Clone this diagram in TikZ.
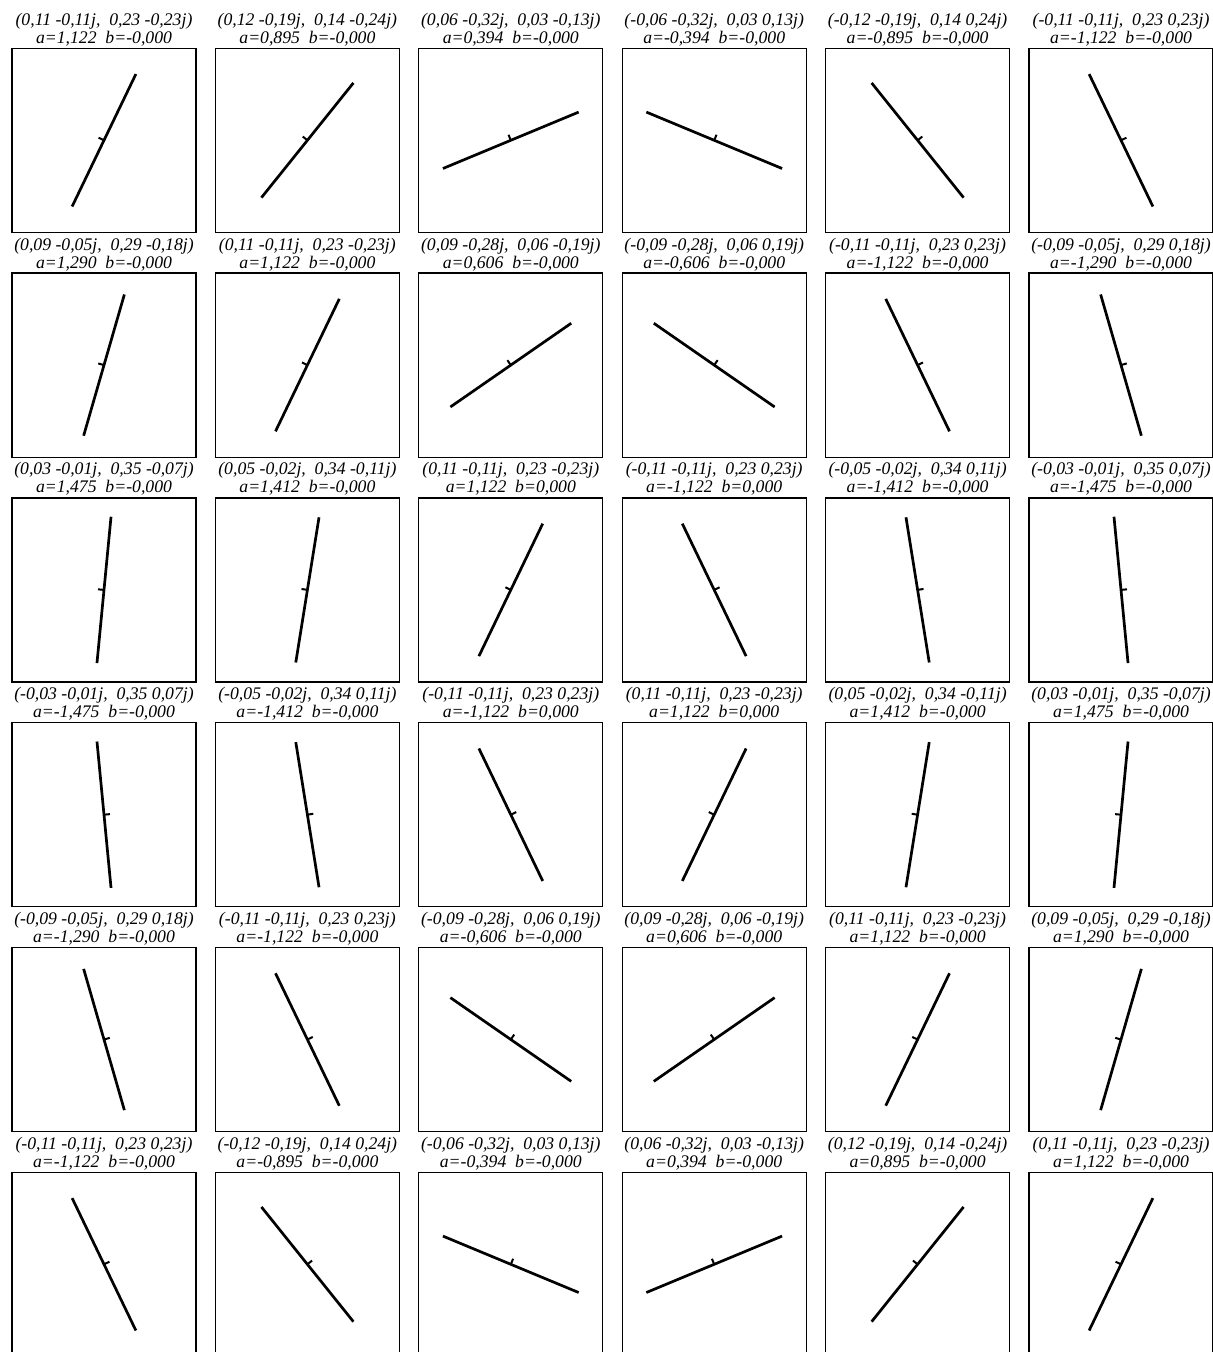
\documentclass[tikz,border=0pt]{standalone}
\usepackage{fontspec}
\setmainfont{Liberation Serif}
\usetikzlibrary{calc}
\tikzset{
  panel/.style={draw=black, line width=0.6pt, minimum width=92pt, minimum height=92pt, inner sep=0pt, outer sep=0pt},
  ttl/.style={font=\itshape\fontsize{8.85}{10}\selectfont, anchor=base, inner sep=0pt},
  seg/.style={line width=1.35pt, line cap=butt},
  tickmark/.style={line width=1pt, line cap=butt}
}
\begin{document}
\begin{tikzpicture}[x=0.5pt,y=0.5pt]
\fill[white] (0,0) rectangle (1213,-1352);
\useasboundingbox (0,0) rectangle (1213,-1352);
\foreach \r/\c/\ang/\z/\av/\bv in {
1/1/1.122/{(0,11 -0,11j,~~0,23 -0,23j)}/{1,122}/{-0,000},
1/2/0.895/{(0,12 -0,19j,~~0,14 -0,24j)}/{0,895}/{-0,000},
1/3/0.394/{(0,06 -0,32j,~~0,03 -0,13j)}/{0,394}/{-0,000},
1/4/-0.394/{(-0,06 -0,32j,~~0,03 0,13j)}/{-0,394}/{-0,000},
1/5/-0.895/{(-0,12 -0,19j,~~0,14 0,24j)}/{-0,895}/{-0,000},
1/6/-1.122/{(-0,11 -0,11j,~~0,23 0,23j)}/{-1,122}/{-0,000},
2/1/1.290/{(0,09 -0,05j,~~0,29 -0,18j)}/{1,290}/{-0,000},
2/2/1.122/{(0,11 -0,11j,~~0,23 -0,23j)}/{1,122}/{-0,000},
2/3/0.606/{(0,09 -0,28j,~~0,06 -0,19j)}/{0,606}/{-0,000},
2/4/-0.606/{(-0,09 -0,28j,~~0,06 0,19j)}/{-0,606}/{-0,000},
2/5/-1.122/{(-0,11 -0,11j,~~0,23 0,23j)}/{-1,122}/{-0,000},
2/6/-1.290/{(-0,09 -0,05j,~~0,29 0,18j)}/{-1,290}/{-0,000},
3/1/1.475/{(0,03 -0,01j,~~0,35 -0,07j)}/{1,475}/{-0,000},
3/2/1.412/{(0,05 -0,02j,~~0,34 -0,11j)}/{1,412}/{-0,000},
3/3/1.122/{(0,11 -0,11j,~~0,23 -0,23j)}/{1,122}/{0,000},
3/4/-1.122/{(-0,11 -0,11j,~~0,23 0,23j)}/{-1,122}/{0,000},
3/5/-1.412/{(-0,05 -0,02j,~~0,34 0,11j)}/{-1,412}/{-0,000},
3/6/-1.475/{(-0,03 -0,01j,~~0,35 0,07j)}/{-1,475}/{-0,000},
4/1/-1.475/{(-0,03 -0,01j,~~0,35 0,07j)}/{-1,475}/{-0,000},
4/2/-1.412/{(-0,05 -0,02j,~~0,34 0,11j)}/{-1,412}/{-0,000},
4/3/-1.122/{(-0,11 -0,11j,~~0,23 0,23j)}/{-1,122}/{0,000},
4/4/1.122/{(0,11 -0,11j,~~0,23 -0,23j)}/{1,122}/{0,000},
4/5/1.412/{(0,05 -0,02j,~~0,34 -0,11j)}/{1,412}/{-0,000},
4/6/1.475/{(0,03 -0,01j,~~0,35 -0,07j)}/{1,475}/{-0,000},
5/1/-1.290/{(-0,09 -0,05j,~~0,29 0,18j)}/{-1,290}/{-0,000},
5/2/-1.122/{(-0,11 -0,11j,~~0,23 0,23j)}/{-1,122}/{-0,000},
5/3/-0.606/{(-0,09 -0,28j,~~0,06 0,19j)}/{-0,606}/{-0,000},
5/4/0.606/{(0,09 -0,28j,~~0,06 -0,19j)}/{0,606}/{-0,000},
5/5/1.122/{(0,11 -0,11j,~~0,23 -0,23j)}/{1,122}/{-0,000},
5/6/1.290/{(0,09 -0,05j,~~0,29 -0,18j)}/{1,290}/{-0,000},
6/1/-1.122/{(-0,11 -0,11j,~~0,23 0,23j)}/{-1,122}/{-0,000},
6/2/-0.895/{(-0,12 -0,19j,~~0,14 0,24j)}/{-0,895}/{-0,000},
6/3/-0.394/{(-0,06 -0,32j,~~0,03 0,13j)}/{-0,394}/{-0,000},
6/4/0.394/{(0,06 -0,32j,~~0,03 -0,13j)}/{0,394}/{-0,000},
6/5/0.895/{(0,12 -0,19j,~~0,14 -0,24j)}/{0,895}/{-0,000},
6/6/1.122/{(0,11 -0,11j,~~0,23 -0,23j)}/{1,122}/{-0,000}
}{
  \pgfmathsetmacro\cx{104+203.4*(\c-1)}
  \pgfmathsetmacro\ptop{48.3+224.8*(\r-1)}
  \pgfmathsetmacro\deg{\ang*57.29578}
  \node[panel] (box-\r-\c) at (\cx,{-\ptop-92}) {};
  \node[ttl] (za-\r-\c) at (\cx,{-\ptop+23}) {\z};
  \node[ttl] (zb-\r-\c) at (\cx,{-\ptop+5}) {a=\av~~b=\bv};
  \draw[seg] ($(box-\r-\c.center)+(\deg:73.5)$) -- ($(box-\r-\c.center)+(\deg+180:73.5)$);
  \draw[tickmark] (box-\r-\c.center) -- ++(\deg+90:6);
}
\end{tikzpicture}
\end{document}
